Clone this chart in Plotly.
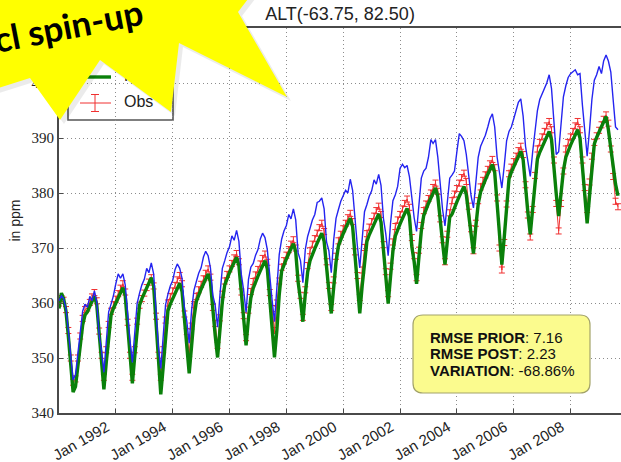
import pandas as pd
import plotly.graph_objects as go

# ---------------------------------------------------------------- data
start_month = "1990-01-01"

# prior (model before assimilation), monthly, Jan 1990 .. Sep 2009
prior_ppm = [
    360.4, 361.3, 360.8, 359.0, 355.0, 350.0, 346.0, 347.0, 351.0, 355.5, 358.5, 359.8,
    359.2, 361.2, 360.4, 362.2, 360.2, 354.2, 351.4, 347.4, 353.4, 358.4, 359.8, 361.3,
    363.5, 365.3, 364.5, 365.3, 363.3, 357.3, 353.2, 349.2, 355.2, 359.9, 361.8, 363.3,
    364.3, 366.3, 365.5, 367.3, 365.3, 359.3, 352.1, 348.1, 354.1, 359.6, 361.6, 363.1,
    364.1, 366.1, 367.1, 366.3, 364.5, 359.1, 356.7, 352.7, 358.7, 362.3, 363.9, 365.4,
    366.4, 368.4, 369.4, 368.6, 366.4, 361.4, 359.6, 355.6, 361.6, 366.3, 367.7, 369.2,
    370.2, 372.2, 371.4, 373.2, 371.2, 365.2, 362.3, 358.3, 364.3, 366.5, 367.2, 368.7,
    369.7, 371.7, 372.7, 371.9, 369.7, 364.7, 360.6, 356.6, 362.6, 368.8, 371.6, 373.1,
    374.1, 376.1, 375.3, 377.1, 375.1, 369.1, 367.7, 363.7, 369.7, 372.1, 373.6, 375.1,
    376.1, 378.3, 378.5, 379.1, 377.1, 371.1, 369.5, 365.5, 371.5, 375.4, 377.0, 378.5,
    379.5, 380.5, 380.0, 382.5, 380.5, 374.5, 370.4, 366.4, 372.4, 376.6, 377.9, 379.4,
    380.4, 382.4, 381.6, 383.4, 381.4, 375.4, 372.6, 368.6, 374.6, 378.6, 379.7, 381.2,
    384.5, 385.2, 384.6, 385.0, 383.0, 378.5, 375.5, 373.0, 378.0, 382.7, 384.0, 384.5,
    386.5, 389.7, 389.0, 389.7, 386.5, 381.0, 377.0, 374.0, 379.0, 382.7, 383.3, 384.0,
    387.5, 390.8, 390.3, 389.5, 387.0, 382.5, 379.5, 377.3, 382.0, 386.5, 388.5, 389.5,
    390.5, 392.0, 393.5, 394.4, 392.0, 386.5, 383.5, 380.9, 385.0, 389.5, 391.2, 392.0,
    393.5, 395.0, 396.5, 397.1, 394.0, 388.5, 385.5, 383.0, 387.5, 391.0, 395.0, 397.0,
    398.0, 398.8, 400.0, 401.5, 399.0, 393.0, 387.0, 387.5, 392.0, 397.5, 399.5, 401.0,
    401.7, 402.0, 402.4, 401.5, 401.7, 396.0, 391.0, 386.7, 391.5, 397.0, 400.5, 401.5,
    403.0, 401.7, 404.0, 405.1, 404.0, 402.0, 397.0, 392.0, 391.5,
]

# posterior (after assimilation)
post_ppm = [
    359.0, 361.8, 360.8, 358.5, 354.0, 348.5, 343.8, 344.8, 348.5, 352.8, 356.0, 357.8,
    358.4, 359.4, 360.4, 361.2, 359.7, 354.2, 348.3, 344.3, 349.3, 354.4, 357.8, 359.0,
    360.0, 361.0, 362.0, 362.8, 361.3, 355.8, 349.4, 345.4, 350.4, 355.8, 359.6, 360.8,
    361.8, 362.8, 363.8, 364.6, 363.1, 356.6, 349.0, 343.4, 348.4, 354.4, 358.6, 359.8,
    360.8, 361.8, 362.8, 363.6, 362.1, 356.6, 351.2, 347.2, 352.2, 357.2, 360.3, 361.5,
    362.5, 363.5, 364.5, 365.3, 363.8, 358.3, 354.1, 350.1, 355.1, 360.2, 363.3, 364.5,
    365.5, 366.5, 367.5, 368.3, 366.8, 361.3, 356.3, 352.3, 357.3, 360.9, 362.7, 363.9,
    364.9, 365.9, 366.9, 367.7, 366.2, 360.7, 354.1, 350.1, 355.1, 361.5, 365.8, 367.0,
    368.0, 369.0, 370.0, 370.8, 369.3, 363.8, 360.6, 356.6, 361.6, 365.6, 367.7, 368.9,
    369.9, 370.9, 371.9, 372.7, 371.2, 365.7, 362.1, 358.1, 363.1, 367.4, 370.4, 371.6,
    372.6, 373.6, 374.6, 375.4, 373.9, 368.4, 362.1, 358.1, 363.1, 367.8, 371.2, 372.4,
    373.4, 374.4, 375.4, 376.2, 374.7, 369.2, 363.9, 359.9, 364.9, 369.4, 372.2, 373.4,
    374.4, 375.4, 376.4, 377.2, 375.7, 370.2, 367.5, 363.5, 368.5, 373.1, 375.9, 377.1,
    378.1, 379.1, 380.1, 380.9, 379.4, 374.4, 371.0, 367.0, 372.0, 375.6, 376.2, 377.4,
    378.4, 379.4, 380.4, 381.2, 379.7, 376.2, 372.5, 369.0, 374.0, 378.0, 380.2, 381.4,
    382.4, 383.4, 384.4, 385.2, 383.7, 378.2, 371.0, 367.0, 372.0, 378.2, 382.6, 383.8,
    384.8, 385.8, 386.8, 387.6, 386.1, 380.6, 376.5, 372.5, 377.5, 382.4, 386.2, 387.4,
    388.4, 389.4, 390.4, 391.2, 389.7, 384.2, 379.8, 375.8, 380.8, 384.1, 386.5, 387.7,
    388.7, 389.7, 390.7, 391.5, 390.0, 384.5, 378.5, 374.5, 379.5, 384.4, 388.9, 390.1,
    391.1, 392.1, 393.1, 393.9, 391.5, 388.0, 385.0, 381.6, 379.5,
]

# station observations
obs_ppm = [
    360.0, 360.8, 360.5, 358.8, 355.0, 350.0, 345.6, 346.2, 350.0, 354.0, 357.2, 358.8,
    359.1, 360.1, 361.1, 361.9, 360.4, 354.9, 350.5, 346.5, 351.5, 356.1, 358.5, 359.7,
    360.7, 361.7, 362.7, 363.5, 362.0, 356.5, 350.5, 346.5, 351.5, 356.7, 359.6, 360.8,
    361.8, 362.8, 363.8, 364.6, 363.1, 357.6, 350.5, 346.5, 351.5, 356.9, 360.0, 361.2,
    362.2, 363.2, 364.2, 365.0, 363.5, 358.0, 354.8, 350.8, 355.8, 359.7, 361.2, 362.4,
    363.4, 364.4, 365.4, 366.2, 364.7, 359.2, 356.3, 352.3, 357.3, 361.6, 364.0, 365.2,
    366.2, 367.2, 368.2, 369.0, 367.5, 362.0, 357.7, 353.7, 358.7, 362.1, 363.9, 365.1,
    366.1, 367.1, 368.1, 368.9, 367.4, 361.9, 359.0, 355.0, 360.0, 364.0, 366.5, 367.7,
    368.7, 369.7, 370.7, 371.5, 370.0, 364.5, 361.4, 357.4, 362.4, 366.8, 369.5, 370.7,
    371.7, 372.7, 373.7, 374.5, 373.0, 367.5, 363.2, 359.2, 364.2, 368.5, 371.3, 372.5,
    373.5, 374.5, 375.5, 376.3, 374.8, 369.3, 365.0, 361.0, 366.0, 370.1, 372.6, 373.8,
    374.8, 375.8, 376.8, 377.6, 376.1, 370.6, 365.7, 361.7, 366.7, 371.1, 373.9, 375.1,
    376.1, 377.1, 378.1, 378.9, 377.4, 371.9, 368.6, 364.6, 369.6, 374.1, 376.8, 378.0,
    379.0, 380.0, 381.0, 381.8, 380.3, 375.3, 371.5, 367.5, 372.5, 376.4, 378.6, 379.8,
    380.8, 381.8, 382.8, 383.6, 382.1, 377.6, 373.5, 369.5, 374.5, 378.6, 381.1, 382.3,
    383.3, 384.3, 385.3, 386.1, 384.6, 379.1, 370.0, 366.0, 371.0, 378.0, 383.5, 384.7,
    385.7, 386.7, 387.7, 388.5, 387.0, 381.5, 376.0, 372.0, 377.0, 383.2, 388.0, 389.2,
    390.2, 391.2, 392.2, 393.0, 391.5, 386.0, 378.1, 373.1, 378.1, 384.0, 388.0, 389.2,
    390.2, 391.2, 392.2, 393.0, 391.5, 386.0, 381.0, 377.0, 382.0, 386.7, 389.2, 390.4,
    391.4, 392.4, 393.4, 394.2, 392.7, 388.0, 383.0, 378.5, 377.5,
]
obs_err = 0.55

tick_years = [1992, 1994, 1996, 1998, 2000, 2002, 2004, 2006, 2008]
y_ticks = [340, 350, 360, 370, 380, 390, 400, 410]

title_text = "ALT(-63.75, 82.50)"
y_title = "in ppm"
legend_names = ["Prior", "Post", "Obs"]
stats_labels = ["RMSE PRIOR", "RMSE POST", "VARIATION"]
stats_values = ["7.16", "2.23", "-68.86%"]
banner_text = "cl spin-up"

# ---------------------------------------------------------------- styles
C_PRIOR = "#2424f0"
C_POST = "#0a800a"
C_OBS = "#f03030"
AXIS = "#4a4a4a"
GRID = "#8c8c8c"

W, H = 621, 462
ML, MT, PR, PB = 59, 28, 621, 413          # plot area edges in px


def fx(px):
    return (px - ML) / (PR - ML)


def fy(py):
    return (PB - py) / (PB - MT)


dates = pd.date_range(start_month, periods=len(post_ppm), freq="MS")

fig = go.Figure()

fig.add_trace(go.Scatter(
    x=dates, y=obs_ppm, mode="lines", name="Obs",
    line=dict(color=C_OBS, width=1),
    error_y=dict(type="constant", value=obs_err, color=C_OBS, thickness=1, width=3),
    showlegend=False,
))
fig.add_trace(go.Scatter(
    x=dates, y=post_ppm, mode="lines", name="Post",
    line=dict(color=C_POST, width=3.4), showlegend=False,
))
fig.add_trace(go.Scatter(
    x=dates, y=prior_ppm, mode="lines", name="Prior",
    line=dict(color=C_PRIOR, width=1.4), showlegend=False,
))

# legend entries drawn on an overlay axis so the banner can sit on top of them
leg_y = [fy(51), fy(77), fy(103)]
fig.add_trace(go.Scatter(
    x=[fx(80), fx(111)], y=[leg_y[0]] * 2, xaxis="x2", yaxis="y2", mode="lines",
    line=dict(color=C_PRIOR, width=1.4), showlegend=False, hoverinfo="skip"))
fig.add_trace(go.Scatter(
    x=[fx(80), fx(111)], y=[leg_y[1]] * 2, xaxis="x2", yaxis="y2", mode="lines",
    line=dict(color=C_POST, width=3.4), showlegend=False, hoverinfo="skip"))
fig.add_trace(go.Scatter(
    x=[fx(80), fx(111)], y=[leg_y[2]] * 2, xaxis="x2", yaxis="y2", mode="lines",
    line=dict(color=C_OBS, width=1), showlegend=False, hoverinfo="skip"))
fig.add_trace(go.Scatter(
    x=[fx(95)], y=[leg_y[2]], xaxis="x2", yaxis="y2", mode="lines",
    error_y=dict(type="constant", value=8.5 / (PB - MT), color=C_OBS, thickness=1, width=4),
    showlegend=False, hoverinfo="skip"))
fig.add_trace(go.Scatter(
    x=[fx(124)] * 3, y=leg_y, xaxis="x2", yaxis="y2", mode="text",
    text=legend_names, textposition="middle right",
    textfont=dict(family="Liberation Sans", size=16, color="#222"),
    showlegend=False, hoverinfo="skip"))

shapes = []
# legend frame
shapes.append(dict(type="rect", xref="paper", yref="paper", layer="between",
                   x0=fx(68), x1=fx(173), y0=fy(120), y1=fy(34),
                   fillcolor="white", line=dict(color="#555", width=1.6)))

# statistics box with rounded corners
bx0, bx1, by0, by1 = 413, 590, 315, 393
r = 10
rx, ry = r / (PR - ML), r / (PB - MT)
X0, X1, Y0, Y1 = fx(bx0), fx(bx1), fy(by1), fy(by0)
box_path = (
    f"M {X0 + rx},{Y0} L {X1 - rx},{Y0} Q {X1},{Y0} {X1},{Y0 + ry} "
    f"L {X1},{Y1 - ry} Q {X1},{Y1} {X1 - rx},{Y1} L {X0 + rx},{Y1} "
    f"Q {X0},{Y1} {X0},{Y1 - ry} L {X0},{Y0 + ry} Q {X0},{Y0} {X0 + rx},{Y0} Z"
)
shapes.append(dict(type="path", xref="paper", yref="paper", layer="above", path=box_path,
                   fillcolor="#fbfb8e", line=dict(color="#a3a36a", width=1.2)))

# banner burst in the top-left corner
burst = [(-40, -40), (278, -40), (238, 12), (287, 97), (179, 43), (171, 112),
         (100, 60), (60, 120), (30, 78), (-40, 100)]


def poly_path(pts, dx=0, dy=0):
    s = "M " + " L ".join(f"{fx(x + dx)},{fy(y + dy)}" for x, y in pts)
    return s + " Z"


shapes.append(dict(type="path", xref="paper", yref="paper", layer="above",
                   path=poly_path(burst, 4, 4), fillcolor="rgba(0,0,0,0.08)",
                   line=dict(width=0)))
shapes.append(dict(type="path", xref="paper", yref="paper", layer="above",
                   path=poly_path(burst), fillcolor="#ffff00", line=dict(width=0)))

annotations = []
for i, (lab, val) in enumerate(zip(stats_labels, stats_values)):
    annotations.append(dict(
        xref="paper", yref="paper", x=fx(428), y=fy(337 + i * 16.5),
        xanchor="left", yanchor="middle", showarrow=False,
        text=f"<b>{lab}</b>: {val}",
        font=dict(family="Liberation Sans", size=15, color="#111")))

annotations.append(dict(
    xref="paper", yref="paper", x=fx(68), y=fy(25), xanchor="center", yanchor="middle",
    showarrow=False, textangle=-11, text=f"<b>{banner_text}</b>",
    font=dict(family="Lato", size=35, color="#000")))

fig.update_layout(
    width=W, height=H,
    margin=dict(l=ML, r=W - PR, t=MT, b=H - PB, pad=0),
    paper_bgcolor="white", plot_bgcolor="white",
    showlegend=False,
    title=dict(text=title_text, x=0.5, xref="paper", xanchor="center",
               y=1 - 14 / H, yref="container", yanchor="middle",
               font=dict(family="Liberation Sans", size=18, color="#222")),
    xaxis=dict(
        type="date", range=["1990-01-01", "2009-10-10"], automargin=False,
        tickvals=[f"{y}-01-01" for y in tick_years],
        ticktext=[f"Jan {y}" for y in tick_years],
        tickangle=-30, ticks="inside", ticklen=4, tickcolor=AXIS,
        ticklabelshift=-9, ticklabelstandoff=-2, ticklabeloverflow="allow",
        tickfont=dict(family="Liberation Sans", size=15, color="#222"),
        showline=True, linecolor=AXIS, linewidth=1.8, mirror=True,
        showgrid=True, gridcolor=GRID, griddash="1px,3px", gridwidth=1,
        zeroline=False,
    ),
    yaxis=dict(
        range=[340, 410], automargin=False,
        tickvals=y_ticks, ticktext=[str(v) for v in y_ticks],
        ticks="inside", ticklen=4, tickcolor=AXIS,
        tickfont=dict(family="Liberation Serif", size=15, color="#222"),
        showline=True, linecolor=AXIS, linewidth=1.8, mirror=False,
        showgrid=True, gridcolor=GRID, griddash="1px,3px", gridwidth=1,
        zeroline=False,
        title=dict(text=y_title, standoff=8,
                   font=dict(family="Liberation Sans", size=14, color="#222")),
    ),
    xaxis2=dict(overlaying="x", anchor="y2", range=[0, 1], visible=False),
    yaxis2=dict(overlaying="y", anchor="x2", range=[0, 1], visible=False),
    shapes=shapes,
    annotations=annotations,
)

fig.write_html("out.html")
